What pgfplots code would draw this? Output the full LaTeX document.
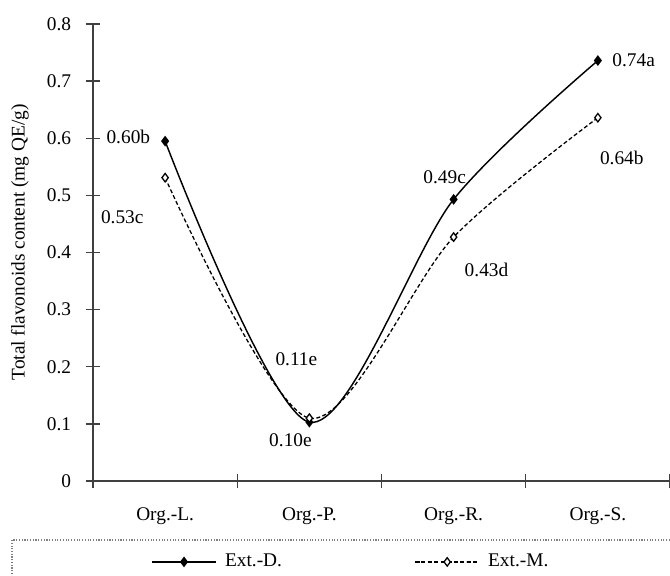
\documentclass[12pt,border=0pt]{standalone}
\usepackage{fontspec}
\setmainfont{Liberation Serif}
\usepackage{pgfplots}
\pgfplotsset{compat=1.18}
\definecolor{axgray}{HTML}{404040}
\begin{document}
\begin{tikzpicture}
\path[use as bounding box] (-57.66pt,-58.28pt) rectangle (357.74pt,298.22pt);
\begin{axis}[
  at={(0pt,0pt)}, anchor=south west,
  scale only axis,
  width=357.74pt, height=283.34pt,
  xmin=-0.5, xmax=3.5, ymin=0, ymax=0.8,
  axis x line=bottom, axis y line=left,
  axis line style={-, axgray, line width=0.8pt},
  xtick={0,1,2,3},
  xticklabels={Org.-L.,Org.-P.,Org.-R.,Org.-S.},
  major x tick style={draw=none},
  minor xtick={-0.5,0.5,1.5,2.5,3.5},
  minor x tick style={axgray, line width=0.8pt},
  ytick={0,0.1,...,0.8},
  y tick style={axgray, line width=0.8pt},
  tick align=center,
  major tick length=8.7pt, minor tick length=8.7pt,
  yticklabel style={/pgf/number format/fixed, /pgf/number format/precision=1, xshift=-5pt},
  /pgf/number format/assume math mode=true,
  xticklabel style={yshift=-8pt},
  ylabel={Total flavonoids content (mg QE/g)},
  ylabel style={at={(axis description cs:-0.1265,0.522)}, anchor=center},
  clip=false,
  legend columns=2,
  legend style={at={(axis description cs:0.1,-0.177)}, anchor=west, draw=none, fill=none,
    inner xsep=0pt, inner ysep=0pt,
    /tikz/every even column/.append style={column sep=80pt}},
  legend image code/.code={\draw[mark repeat=2,mark phase=2,#1] plot coordinates {(0pt,0pt) (20pt,0pt) (40pt,0pt)}; \path (43pt,0pt);},
]
\addplot[smooth, solid, black, line width=0.9pt, mark=diamond*, mark size=2.6pt, mark options={solid, fill=black}]
  coordinates {(0,0.595) (1,0.103) (2,0.493) (3,0.736)};
\addlegendentry{Ext.-D.}
\addplot[smooth, black, line width=0.8pt, dash pattern=on 2.5pt off 1.5pt, mark=diamond*, mark size=2.6pt, mark options={solid, fill=white, line width=0.8pt}]
  coordinates {(0,0.531) (1,0.110) (2,0.427) (3,0.636)};
\addlegendentry{Ext.-M.}
\node at (axis cs:-0.255,0.602) {0.60b};
\node at (axis cs:-0.297,0.462) {0.53c};
\node at (axis cs:0.910,0.214) {0.11e};
\node at (axis cs:0.869,0.072) {0.10e};
\node at (axis cs:1.938,0.531) {0.49c};
\node at (axis cs:2.228,0.370) {0.43d};
\node at (axis cs:3.248,0.736) {0.74a};
\node at (axis cs:3.166,0.566) {0.64b};
\end{axis}
\draw[gray, line width=0.7pt, densely dotted] (-50.2pt,-36.6pt) rectangle (380pt,-90pt);
\end{tikzpicture}
\end{document}
